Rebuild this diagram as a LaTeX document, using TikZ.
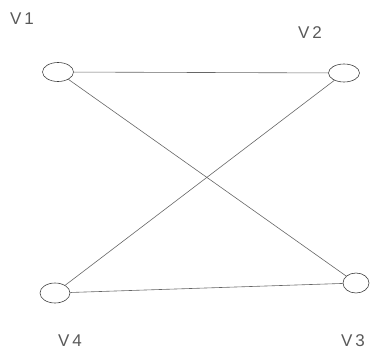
\documentclass[tikz,border=0pt]{standalone}
\usepackage{fontspec}
\setmainfont{Liberation Sans}
\usetikzlibrary{shapes.geometric}
\begin{document}
\begin{tikzpicture}[x=1pt,y=-1pt,
  vert/.style={draw=black!75,line width=0.6pt,ellipse,minimum width=31pt,minimum height=19pt,inner sep=0pt},
  lab/.style={text=black!65,font=\fontsize{17}{17}\selectfont,inner sep=0pt},
  edge/.style={draw=black!60,line width=0.6pt}]
\useasboundingbox (0,0) rectangle (374,350);
\node[vert] (v1) at (58,72) {};
\node[vert,minimum height=18pt] (v2) at (344,73) {};
\node[vert,minimum width=30pt,minimum height=20pt] (v4) at (55,293) {};
\node[vert,minimum width=26pt,minimum height=20pt] (v3) at (356,283) {};
\node[lab] (l1) at (22,19) {V\,1};
\node[lab] (l2) at (310,33) {V\,2};
\node[lab] (l4) at (70,341) {V\,4};
\node[lab] (l3) at (353,341) {V\,3};
\draw[edge] (v1) -- (v2);
\draw[edge] (v1) -- (v3);
\draw[edge] (v2) -- (v4);
\draw[edge] (v4) -- (v3);
\end{tikzpicture}
\end{document}
